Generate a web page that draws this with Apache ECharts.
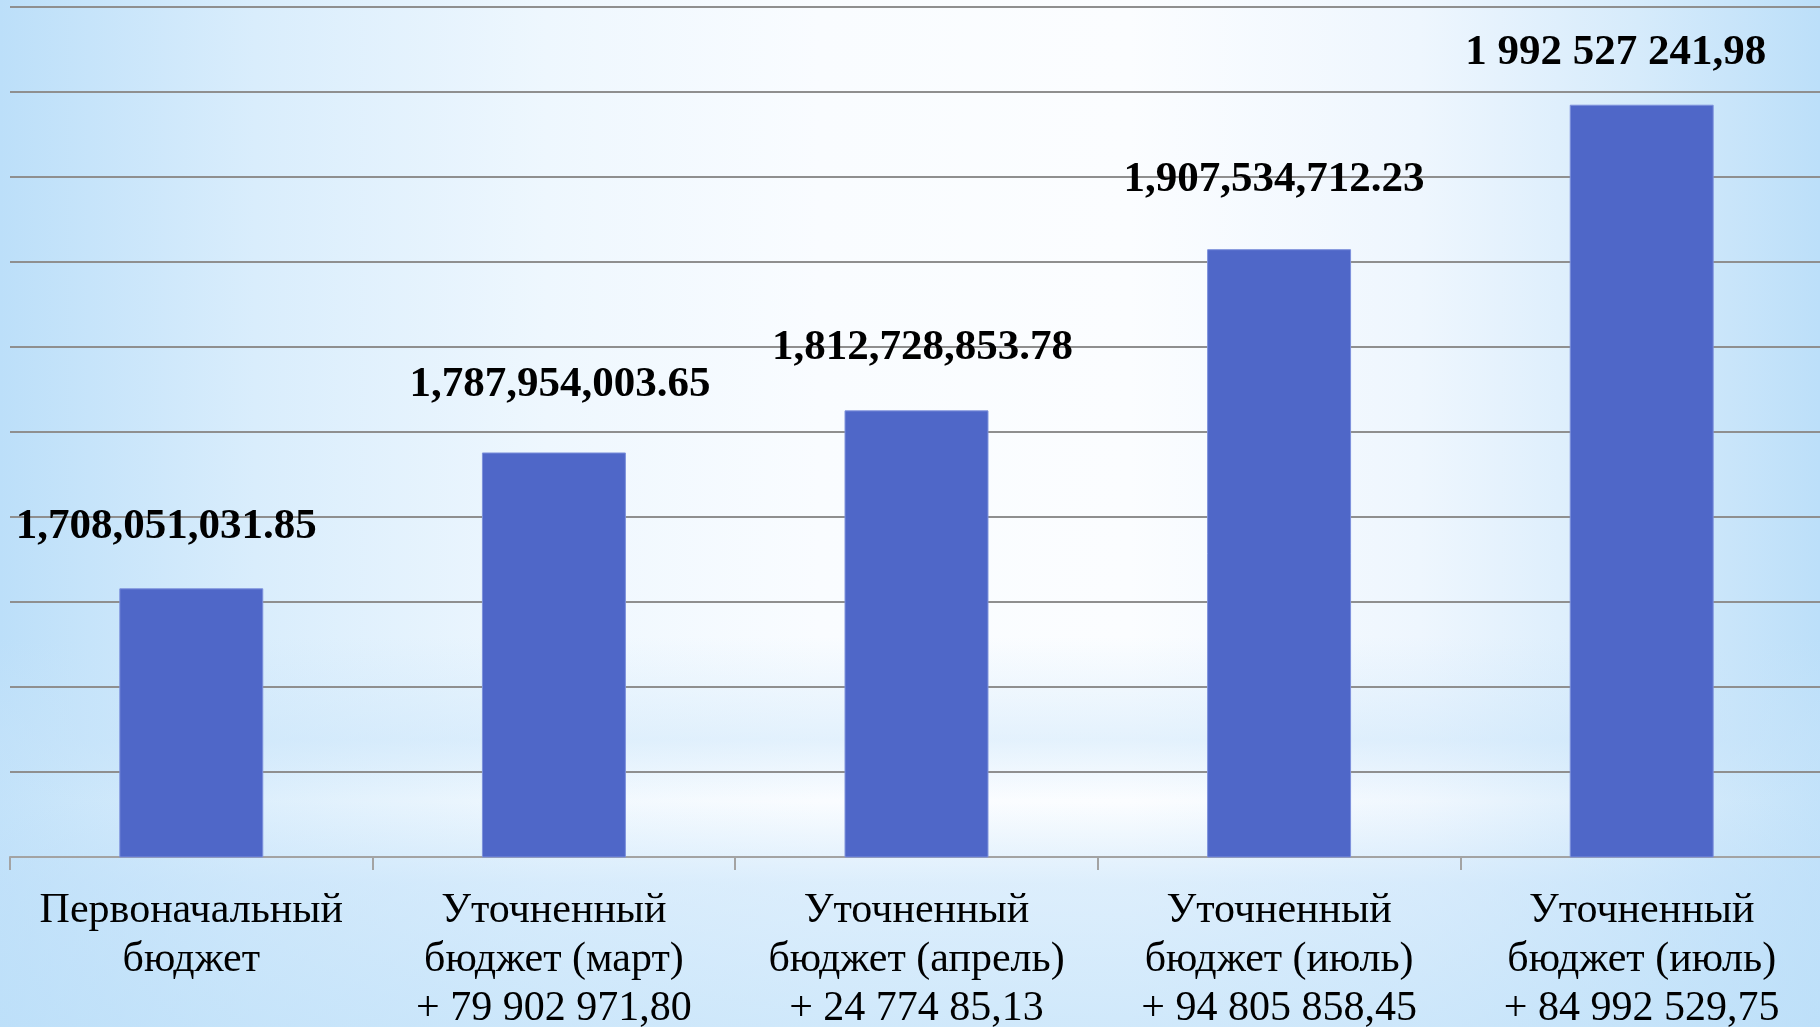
<!DOCTYPE html>
<html>
<head>
<meta charset="utf-8">
<script src="https://cdn.jsdelivr.net/npm/echarts@6/dist/echarts.min.js"></script>
<style>
  html, body {
    margin: 0;
    padding: 0;
  }
  #chart {
    width: 1820px;
    height: 1027px;
    background:
      linear-gradient(to bottom, rgba(255,255,255,0) 0%, rgba(255,255,255,0) 62%, rgba(200,228,250,0.45) 72%, rgba(255,255,255,0.1) 78%, rgba(196,226,250,0.55) 86%, rgba(190,224,249,0.7) 100%),
      linear-gradient(to right, #bcdff9 0%, #d9edfc 14%, #eef7fe 30%, #f9fcff 45%, #fbfdff 62%, #eef6fe 78%, #d6ebfb 90%, #bcdff9 100%);
  }
</style>
</head>
<body>
<div id="chart"></div>
<script>
const categories = [
  'Первоначальный\nбюджет',
  'Уточненный\nбюджет (март)\n+ 79 902 971,80',
  'Уточненный\nбюджет (апрель)\n+ 24 774 85,13',
  'Уточненный\nбюджет (июль)\n+ 94 805 858,45',
  'Уточненный\nбюджет (июль)\n+ 84 992 529,75'
]
const values = [1708051031.85, 1787954003.65, 1812728853.78, 1907534712.23, 1992527241.98]
const valueLabels = [
  '1,708,051,031.85',
  '1,787,954,003.65',
  '1,812,728,853.78',
  '1,907,534,712.23',
  '1 992 527 241,98'
]

// label nudges, styling only
const labelShift = [[-25, 0], [6, -6], [6, -1], [-5, -8], [-26, 10]]

const serif = '"Liberation Serif", "DejaVu Serif", serif'

const chart = echarts.init(document.getElementById('chart'))

const option = {
  backgroundColor: 'transparent',
  animation: false,
  grid: {
    left: 10,
    right: -3,
    top: 7,
    bottom: 170,
    containLabel: false,
    outerBoundsMode: 'none'
  },
  xAxis: {
    type: 'category',
    data: categories,
    axisLine: { lineStyle: { color: '#a3a3a3', width: 2 } },
    axisTick: { show: true, length: 13, lineStyle: { color: '#a3a3a3', width: 2 } },
    axisLabel: {
      interval: 0,
      margin: 29,
      color: '#000',
      fontFamily: serif,
      fontSize: 42,
      lineHeight: 49,
      align: 'center'
    }
  },
  yAxis: {
    type: 'value',
    min: 1550000000,
    max: 2050000000,
    interval: 50000000,
    axisLabel: { show: false },
    axisLine: { show: false },
    axisTick: { show: false },
    splitLine: { lineStyle: { color: '#8f8f8f', width: 2 } }
  },
  series: [
    {
      type: 'bar',
      barWidth: '39.7%',
      data: values.map((v, i) => ({
        value: v,
        label: { offset: labelShift[i] }
      })),
      itemStyle: {
        color: '#4f67c8',
        borderColor: '#7d91dc',
        borderWidth: 1
      },
      label: {
        show: true,
        position: 'top',
        distance: 40,
        color: '#000',
        fontFamily: serif,
        fontWeight: 'bold',
        fontSize: 43,
        lineHeight: 43,
        formatter: (p) => valueLabels[p.dataIndex]
      }
    }
  ]
}

chart.setOption(option)
</script>
</body>
</html>
